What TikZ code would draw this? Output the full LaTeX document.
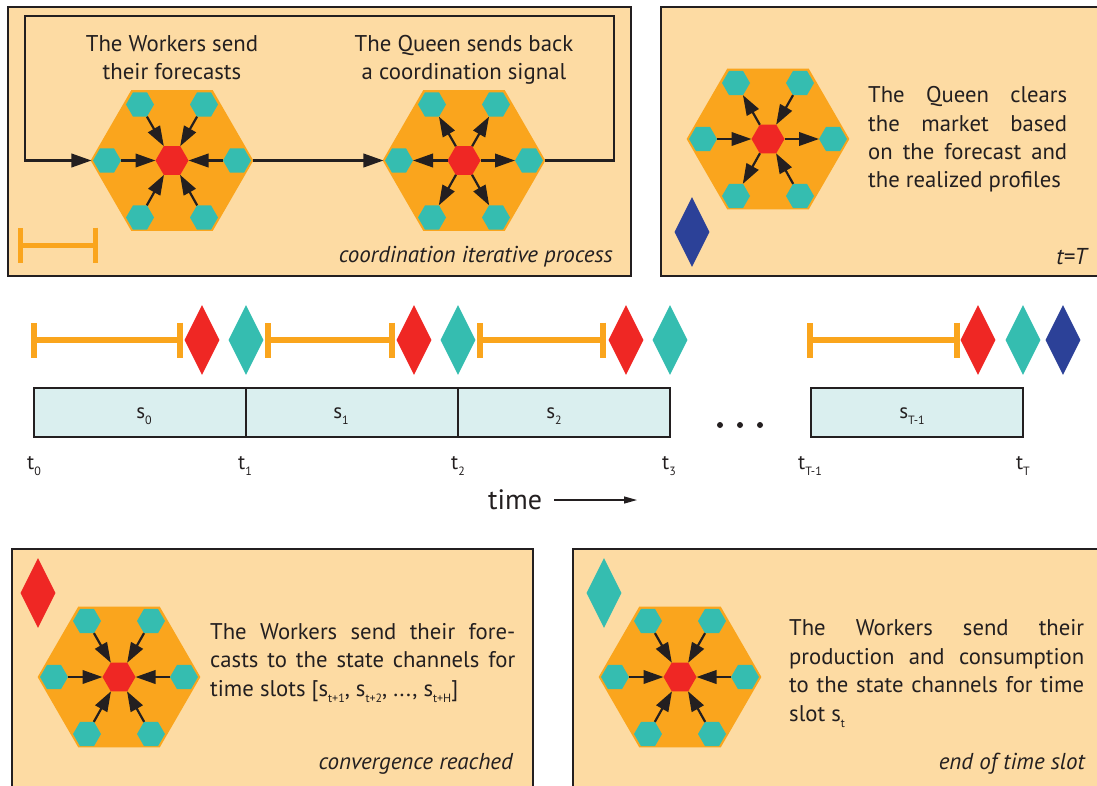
\documentclass[tikz,border=0pt]{standalone}
\usepackage{fontspec}
\setmainfont{PT Sans}
\usepackage{xcolor}
\usetikzlibrary{shapes.geometric,arrows.meta,positioning,calc}

\definecolor{peach}{HTML}{FDDBA3}
\definecolor{hiveorange}{HTML}{FAA51D}
\definecolor{workerteal}{HTML}{35BDB0}
\definecolor{queenred}{HTML}{EF2724}
\definecolor{roundblue}{HTML}{2C4198}
\definecolor{slotblue}{HTML}{DAEFEF}
\definecolor{inkdark}{HTML}{231F20}

\newcommand{\lowsub}[1]{\smash{\raisebox{-0.55ex}{\fontsize{12}{12}\selectfont #1}}}

% one hive: outer hexagon, queen and six workers
\newcommand{\hive}[3]{
    \node[hexouter] (#1) at (#2,#3) {};
    \node[queen] (#1q) at (#2,#3) {};
    \node[worker] (#1w1) at (#2-32,#3-56) {};
    \node[worker] (#1w2) at (#2+32,#3-56) {};
    \node[worker] (#1w3) at (#2-65,#3) {};
    \node[worker] (#1w4) at (#2+65,#3) {};
    \node[worker] (#1w5) at (#2-32,#3+57) {};
    \node[worker] (#1w6) at (#2+32,#3+57) {};
}

\begin{document}
\begin{tikzpicture}[
    x=1pt, y=-1pt,
    panel/.style={draw=inkdark, fill=peach, line width=2pt},
    hexouter/.style={regular polygon, regular polygon sides=6, draw=hiveorange, fill=hiveorange, line width=1.5pt, minimum size=161pt, inner sep=0pt, outer sep=0pt},
    queen/.style={regular polygon, regular polygon sides=6, fill=queenred, minimum size=33pt, inner sep=0pt, outer sep=0pt},
    worker/.style={regular polygon, regular polygon sides=6, fill=workerteal, minimum size=28pt, inner sep=0pt, outer sep=0pt},
    flow/.style={draw=inkdark, line width=2.2pt, -{Triangle[length=20pt,width=13.5pt]}},
    timebar/.style={draw=hiveorange, line width=6pt, {Bar[width=35pt,line width=6pt,sep=0pt]}-{Bar[width=35pt,line width=6pt,sep=0pt]}},
    smallbar/.style={draw=hiveorange, line width=5pt, {Bar[width=35pt,line width=5pt,sep=0pt]}-{Bar[width=35pt,line width=5pt,sep=0pt]}},
    flag/.style={diamond, aspect=0.5, minimum width=35pt, minimum height=70pt, inner sep=0pt},
    slot/.style={rectangle, draw=inkdark, fill=slotblue, line width=2pt, minimum width=212pt, minimum height=49pt, inner sep=0pt, outer sep=0pt, anchor=west},
    dotmark/.style={circle, fill=inkdark, minimum size=6pt, inner sep=0pt},
    heading/.style={font=\fontsize{22.8}{28}\selectfont, text=inkdark, align=center, inner sep=0pt},
    body/.style={font=\fontsize{22.7}{28.4}\selectfont, text=inkdark, align=justify, inner sep=0pt, anchor=west},
    caption/.style={font=\fontsize{23}{26}\selectfont\itshape, text=inkdark, inner sep=0pt, anchor=east},
    ticklabel/.style={font=\fontsize{21}{24}\selectfont, text=inkdark, inner sep=0pt}
]
    \clip (0,0) rectangle (1097,785);

    % Panels
    \path[panel] (8,7) rectangle (631,276);
    \path[panel] (661,7) rectangle (1105,276);
    \path[panel] (12,549) rectangle (533,795);
    \path[panel] (573,549) rectangle (1105,795);

    % Coordination panel
    \hive{hone}{172}{160.5}
    \hive{htwo}{464}{160.5}
    \foreach \w in {1,...,6} \draw[flow] (honew\w) -- (honeq);
    \foreach \w in {1,...,6} \draw[flow] (htwoq) -- (htwow\w);
    \node[heading] (headone) at (172,58) {The Workers send\\their forecasts};
    \node[heading] (headtwo) at (464,59.5) {The Queen sends back\\a coordination signal};
    \coordinate (loopa) at (614,160.5);
    \coordinate (loopb) at (614,16);
    \coordinate (loopc) at (25,16);
    \coordinate (loopd) at (25,160.5);
    \draw[flow] (hone) -- (htwo);
    \draw[flow] (htwo) -- (loopa) -- (loopb) -- (loopc) -- (loopd) -- (hone);
    \node[caption] (capone) at (613,257) {coordination iterative process};

    % Clearing panel
    \hive{hthree}{768}{139}
    \foreach \w in {3,2,6} \draw[flow] (hthreew\w) -- (hthreeq);
    \foreach \w in {1,4,5} \draw[flow] (hthreeq) -- (hthreew\w);
    \node[flag, fill=roundblue] (flagblue) at (692,232) {};
    \node[body, text width=199pt] (textthree) at (868,139.5) {The Queen clears\linebreak the market based\linebreak on the forecast and\linebreak the realized profiles};
    \node[caption] (captwo) at (1087,257) {t=T};

    % Time line
    \foreach \n/\xa/\xb in {0/31/183,1/265/395,2/477/606,3/807/960} {
        \coordinate (bar\n a) at (\xa,340);
        \coordinate (bar\n b) at (\xb,340);
        \draw[timebar] (bar\n a) -- (bar\n b);
    }
    \coordinate (barpanela) at (18,245);
    \coordinate (barpanelb) at (98,245);
    \draw[smallbar] (barpanela) -- (barpanelb);
    \foreach \n/\xa in {0/202,1/414,2/626,3/978} \node[flag, fill=queenred] (red\n) at (\xa,340) {};
    \foreach \n/\xa in {0/246,1/458,2/670,3/1023} \node[flag, fill=workerteal] (teal\n) at (\xa,340) {};
    \node[flag, fill=roundblue] (blue3) at (1063,340) {};

    \node[slot] (slotzero) at (34,412.5) {};
    \node[slot] (slotone) at (246,412.5) {};
    \node[slot] (slottwo) at (458,412.5) {};
    \node[slot] (slotlast) at (811,412.5) {};

    \node[ticklabel] (szero) at (144,413) {s\lowsub{0}};
    \node[ticklabel] (sone) at (341,413) {s\lowsub{1}};
    \node[ticklabel] (stwo) at (554,413) {s\lowsub{2}};
    \node[ticklabel] (slast) at (912,413) {s\lowsub{T-1}};

    \foreach \x in {720,740,760} \node[dotmark] (dot\x) at (\x,425) {};

    \node[ticklabel] (tzero) at (34,463) {t\lowsub{0}};
    \node[ticklabel] (tone) at (245,463) {t\lowsub{1}};
    \node[ticklabel] (ttwo) at (458,463) {t\lowsub{2}};
    \node[ticklabel] (tthree) at (669,463) {t\lowsub{3}};
    \node[ticklabel] (tlast) at (810,463) {t\lowsub{T-1}};
    \node[ticklabel] (tend) at (1023,463) {t\lowsub{T}};

    \node[font=\fontsize{28}{32}\selectfont, text=inkdark, inner ysep=0pt, inner xsep=12pt] (timelab) at (515,500) {time};
    \coordinate (timeend) at (637,500);
    \draw[draw=inkdark, line width=1.2pt, -{Triangle[length=13pt,width=7pt]}] (timelab) -- (timeend);

    % Forecast panel
    \hive{hfour}{119}{677}
    \foreach \w in {1,...,6} \draw[flow] (hfourw\w) -- (hfourq);
    \node[flag, fill=queenred] (flagred) at (38,593) {};
    \node[body, text width=305pt] (textfour) at (210,662.5) {The Workers send their fore-\linebreak casts to the state channels for\linebreak time slots [s\lowsub{t+1}, s\lowsub{t+2}, ..., s\lowsub{t+H}]};
    \node[caption] (capthree) at (513,764) {convergence reached};

    % End of slot panel
    \hive{hfive}{680}{677}
    \foreach \w in {1,...,6} \draw[flow] (hfivew\w) -- (hfiveq);
    \node[flag, fill=workerteal] (flagteal) at (604,593) {};
    \node[body, text width=295pt] (textfive) at (789,670.5) {The Workers send their\linebreak production and consumption\linebreak to the state channels for time\linebreak slot s\lowsub{t}};
    \node[caption] (capfour) at (1085,764) {end of time slot};
\end{tikzpicture}
\end{document}
